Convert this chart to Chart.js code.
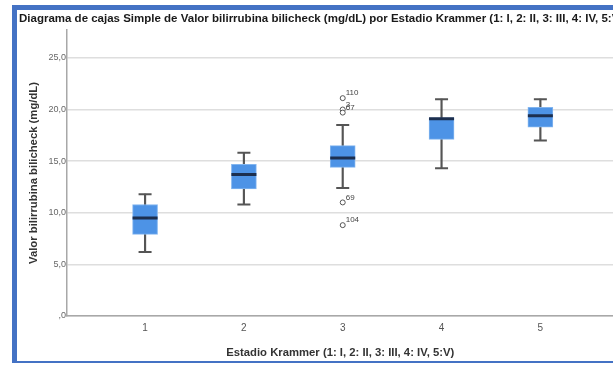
<!DOCTYPE html>
<html>
<head>
<meta charset="utf-8">
<script src="https://cdn.jsdelivr.net/npm/chart.js@4.4.1/dist/chart.umd.min.js"></script>
<style>
	html, body { margin: 0; padding: 0; background: #ffffff; overflow: hidden; }
	#wrap { position: relative; width: 613px; height: 366px; overflow: hidden; }
	#box-chart { position: absolute; left: 0; top: 0; }
	#frame {
		position: absolute; left: 12px; top: 5px; width: 620px; height: 351px;
		border-left: 5px solid #4472c4; border-top: 5px solid #4472c4; border-bottom: 2px solid #4472c4;
		pointer-events: none;
	}
	#title {
		position: absolute; left: 19px; top: 12px; width: 594px; overflow: hidden; white-space: nowrap;
		font: bold 11.5px "Liberation Sans", Arial, sans-serif; color: #1a1a1a;
	}
</style>
</head>
<body>
<div id="wrap">
	<canvas id="box-chart" width="629" height="366"></canvas>
	<div id="frame"></div>
	<div id="title">Diagrama de cajas Simple de Valor bilirrubina bilicheck (mg/dL) por Estadio Krammer (1: I, 2: II, 3: III, 4: IV, 5:V)</div>
</div>
<script>
// Estadio Krammer categories and box statistics (mg/dL)
var categories = [1, 2, 3, 4, 5];
var whiskerLow = [6.2, 10.8, 12.4, 14.3, 17.0];
var q1 = [7.9, 12.3, 14.4, 17.1, 18.3];
var median = [9.5, 13.7, 15.3, 19.1, 19.4];
var q3 = [10.8, 14.7, 16.5, 19.2, 20.2];
var whiskerHigh = [11.8, 15.8, 18.5, 21.0, 21.0];

// outliers (all in stage 3)
var outlierX = [3, 3, 3, 3, 3];
var outlierY = [21.1, 20.0, 19.7, 11.0, 8.8];
var outlierLabels = ["110", "3", "67", "69", "104"];

// tick labels
var xTickLabels = ["1", "2", "3", "4", "5"];
var yTickValues = [0, 5, 10, 15, 20, 25];
var yTickLabels = [",0", "5,0", "10,0", "15,0", "20,0", "25,0"];

var fontFamily = '"Liberation Sans", Arial, sans-serif';

function pts(xs, ys) {
	return xs.map(function (x, i) { return { x: x, y: ys[i] }; });
}

// draw case numbers next to outliers
var outlierLabelPlugin = {
	id: "outlierLabels",
	afterDatasetsDraw: function (chart) {
		var meta = chart.getDatasetMeta(4);
		var ctx = chart.ctx;
		ctx.save();
		ctx.font = "8px " + fontFamily;
		ctx.fillStyle = "#444444";
		ctx.textBaseline = "bottom";
		meta.data.forEach(function (pt, i) {
			ctx.fillText(outlierLabels[i], pt.x + 3, pt.y - 1);
		});
		ctx.restore();
	},
};

var ctx = document.getElementById("box-chart").getContext("2d");
var myChart = new Chart(ctx, {
	data: {
		datasets: [
			{
				type: "bar",
				label: "Caja",
				data: categories.map(function (c, i) { return { x: c, y: [q1[i], q3[i]] }; }),
				backgroundColor: "#4d93e6",
				borderColor: "#82b5ef",
				borderWidth: 1,
				borderSkipped: false,
				barThickness: 25,
				grouped: false,
				order: 2,
			},
			{
				type: "bar",
				label: "Bigotes",
				data: categories.map(function (c, i) { return { x: c, y: [whiskerLow[i], whiskerHigh[i]] }; }),
				backgroundColor: "#555555",
				barThickness: 1.5,
				grouped: false,
				order: 4,
			},
			{
				type: "scatter",
				label: "Extremos",
				data: pts(categories, whiskerLow).concat(pts(categories, whiskerHigh)),
				pointStyle: "line",
				radius: 6.5,
				borderColor: "#555555",
				borderWidth: 2,
				order: 3,
			},
			{
				type: "scatter",
				label: "Mediana",
				data: pts(categories, median),
				pointStyle: "line",
				radius: 12.5,
				borderColor: "#1c2f4f",
				borderWidth: 3,
				order: 1,
			},
			{
				type: "scatter",
				label: "Atípicos",
				data: pts(outlierX, outlierY),
				pointStyle: "circle",
				radius: 2.5,
				backgroundColor: "#ffffff",
				borderColor: "#555555",
				borderWidth: 1,
				order: 0,
			},
		],
	},
	options: {
		responsive: false,
		animation: false,
		layout: { padding: { top: 30, left: 0, right: 0, bottom: 0 } },
		plugins: {
			legend: { display: false },
			tooltip: { enabled: false },
		},
		scales: {
			x: {
				type: "linear",
				offset: false,
				min: 0.21,
				max: 5.74,
				afterBuildTicks: function (scale) {
					scale.ticks = categories.map(function (v) { return { value: v }; });
				},
				afterFit: function (scale) {
					scale.height = 50;
					scale.paddingLeft = 0;
					scale.paddingRight = 0;
				},
				ticks: {
					padding: 6,
					color: "#555555",
					font: { family: fontFamily, size: 10 },
					callback: function (v) { return xTickLabels[categories.indexOf(v)]; },
				},
				grid: { display: false, drawTicks: false },
				border: { display: true, color: "#a8a8a8", width: 1.5 },
				title: {
					display: true,
					text: "Estadio Krammer (1: I, 2: II, 3: III, 4: IV, 5:V)",
					color: "#333333",
					font: { family: fontFamily, size: 11.3, weight: "bold" },
					padding: { top: 0, bottom: 6 },
				},
			},
			y: {
				min: 0,
				max: 27.7,
				afterBuildTicks: function (scale) {
					scale.ticks = yTickValues.map(function (v) { return { value: v }; });
				},
				afterFit: function (scale) {
					scale.width = 67;
					scale.paddingTop = 0;
					scale.paddingBottom = 0;
				},
				ticks: {
					padding: 1,
					color: "#666666",
					font: { family: fontFamily, size: 9 },
					callback: function (v) { return yTickLabels[yTickValues.indexOf(v)]; },
				},
				grid: { color: "#dedede", lineWidth: 1.5, drawTicks: false },
				border: { display: true, color: "#a8a8a8", width: 1.5 },
				title: {
					display: true,
					text: "Valor bilirrubina bilicheck (mg/dL)",
					color: "#333333",
					font: { family: fontFamily, size: 11.3, weight: "bold" },
					padding: { top: 27, bottom: 0 },
				},
			},
		},
	},
	plugins: [outlierLabelPlugin],
});
</script>
</body>
</html>
